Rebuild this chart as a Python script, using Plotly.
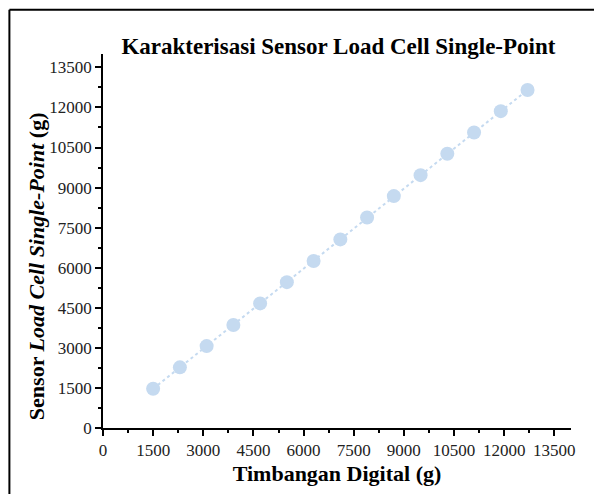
import plotly.graph_objects as go

timbangan = [1500, 2300, 3100, 3900, 4700, 5500, 6300, 7100, 7900, 8700, 9500, 10300, 11100, 11900, 12700]
sensor = [1470, 2270, 3065, 3855, 4665, 5460, 6250, 7060, 7880, 8680, 9465, 10265, 11060, 11860, 12655]
tick_vals = [0, 1500, 3000, 4500, 6000, 7500, 9000, 10500, 12000, 13500]
tick_text = [str(v) for v in tick_vals]

FONT = "Liberation Serif, Times New Roman, serif"
POINT_COLOR = "#c5daf0"

fig = go.Figure()
fig.add_trace(go.Scatter(
    x=timbangan,
    y=sensor,
    mode="lines+markers",
    line=dict(color=POINT_COLOR, width=2, dash="dot"),
    marker=dict(color=POINT_COLOR, size=14),
    showlegend=False,
))

axis_common = dict(
    range=[0, 14000],
    tickvals=tick_vals,
    ticktext=tick_text,
    automargin=False,
    showgrid=False,
    zeroline=False,
    showline=True,
    linecolor="black",
    linewidth=1.5,
    ticks="outside",
    ticklen=6,
    tickwidth=1.5,
    tickcolor="black",
    tickfont=dict(family=FONT, size=17, color="#222"),
    minor=dict(ticks="outside", dtick=750, ticklen=3, tickwidth=1.5, tickcolor="black"),
)

fig.update_xaxes(
    **axis_common,
    title=dict(text="<b>Timbangan Digital (g)</b>", font=dict(family=FONT, size=22, color="black"), standoff=6),
)
fig.update_yaxes(**axis_common)

# y title sits a bit below the plot centre in the original, so place it by hand
fig.add_annotation(
    text="<b>Sensor <i>Load Cell Single-Point</i> (g)</b>",
    font=dict(family=FONT, size=22, color="black"),
    textangle=-90,
    xref="paper", yref="paper",
    x=-0.143, y=0.433,
    xanchor="center", yanchor="middle",
    showarrow=False,
)

# frame around the picture (left and top edges), in paper units of the 468x374 plot area
shapes = [
    dict(type="line", xref="paper", yref="paper", x0=-0.2, x1=-0.2, y0=-0.2, y1=1.118,
         line=dict(color="black", width=2)),
    dict(type="line", xref="paper", yref="paper", x0=-0.2, x1=1.05, y0=1.118, y1=1.118,
         line=dict(color="black", width=2)),
]

fig.update_layout(
    width=594,
    height=494,
    margin=dict(l=103, r=23, t=54, b=66),
    paper_bgcolor="white",
    plot_bgcolor="white",
    shapes=shapes,
    title=dict(
        text="<b>Karakterisasi Sensor Load Cell Single-Point</b>",
        font=dict(family=FONT, size=23, color="black"),
        x=0.503, xref="paper", xanchor="center",
        y=0.907, yref="container", yanchor="middle",
    ),
)

# drop the default page margin so the figure sits at the window corner
fig.write_html(
    "out.html",
    config={"displayModeBar": False},
    post_script="document.body.style.margin='0';document.body.style.overflow='hidden';",
)
